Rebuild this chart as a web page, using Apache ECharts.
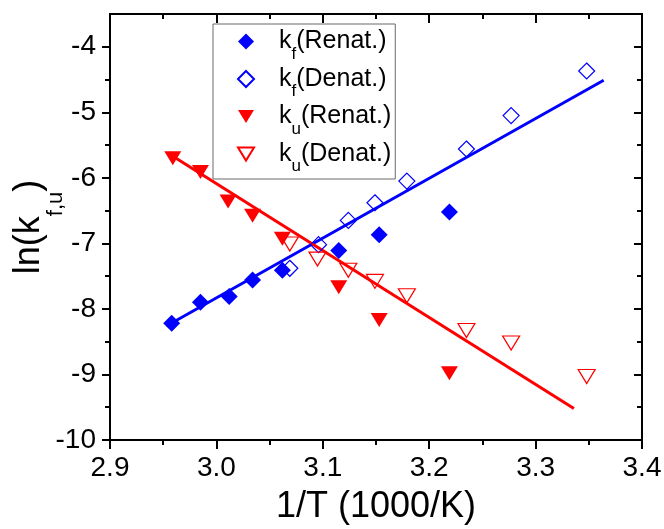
<!DOCTYPE html>
<html><head><meta charset="utf-8">
<script src="https://cdn.jsdelivr.net/npm/echarts@6/dist/echarts.min.js"></script>
<style>html,body{margin:0;padding:0;background:#fff}#c{width:664px;height:529px}</style>
</head><body><div id="c"></div>
<script>
// ---- data ----
const kfRenat = [[2.958,-8.22],[2.985,-7.90],[3.012,-7.81],[3.034,-7.56],[3.062,-7.41],[3.115,-7.11],[3.153,-6.87],[3.219,-6.52]];
const kfDenat = [[3.069,-7.38],[3.096,-7.02],[3.124,-6.65],[3.149,-6.38],[3.179,-6.05],[3.235,-5.56],[3.277,-5.05],[3.348,-4.37]];
const kuRenat = [[2.959,-5.70],[2.985,-5.91],[3.011,-6.36],[3.034,-6.58],[3.062,-6.93],[3.115,-7.67],[3.153,-8.17],[3.219,-8.98]];
const kuDenat = [[3.069,-7.01],[3.095,-7.24],[3.124,-7.41],[3.149,-7.58],[3.179,-7.80],[3.235,-8.33],[3.277,-8.52],[3.348,-9.03]];
const blueFit = [[2.953,-8.26],[3.364,-4.51]];
const redFit = [[2.955,-5.63],[3.336,-9.52]];
const seriesNames = ['kf(Renat.)','kf(Denat.)','ku(Renat.)','ku(Denat.)'];
const xTickLabels = ['2.9','3.0','3.1','3.2','3.3','3.4'];
const yMajor = [-10,-9,-8,-7,-6,-5,-4];
const yTickLabels = ['-10','-9','-8','-7','-6','-5','-4'];
const yMinor = [-9.5,-8.5,-7.5,-6.5,-5.5,-4.5];

const FONT = 'Liberation Sans, Arial, sans-serif';
const BLUE = '#0000FF', RED = '#FF0000';
const TRI = 'path://M0,0L16,0L8,13Z';
const line = {color:'#000', width:2};
const tickLS = {color:'#000', width:2};
const gridRect = {left:110, right:22, top:14, bottom:89, outerBoundsMode:'none', containLabel:false};

const chart = echarts.init(document.getElementById('c'));
chart.setOption({
  animation:false,
  backgroundColor:'#fff',
  grid:[Object.assign({}, gridRect), Object.assign({}, gridRect)],
  xAxis:[
    {type:'value', gridIndex:0, position:'bottom', min:2.9, max:3.4, interval:0.1,
     axisLine:{show:true, onZero:false, lineStyle:line},
     axisTick:{show:true, inside:false, length:9, lineStyle:tickLS},
     minorTick:{show:true, splitNumber:2, length:5, lineStyle:tickLS},
     splitLine:{show:false}, minorSplitLine:{show:false},
     axisLabel:{show:true, fontSize:28, color:'#000', fontFamily:FONT, margin:14,
       formatter:(v, i) => xTickLabels[i] !== undefined ? xTickLabels[i] : ''},
     name:'1/T (1000/K)', nameLocation:'middle', nameGap:49,
     nameTextStyle:{fontSize:36, color:'#000', fontFamily:FONT}},
    {type:'value', gridIndex:0, position:'top', min:2.9, max:3.4, interval:0.1,
     axisLine:{show:true, onZero:false, lineStyle:line},
     axisTick:{show:true, inside:true, length:9, lineStyle:tickLS},
     minorTick:{show:true, splitNumber:2, length:5, lineStyle:tickLS},
     splitLine:{show:false}, axisLabel:{show:false}},
    {type:'value', gridIndex:1, min:2.9, max:3.4, show:false}
  ],
  yAxis:[
    {type:'value', gridIndex:0, position:'left', min:-10, max:-3.5,
     axisLine:{show:true, onZero:false, lineStyle:line},
     axisTick:{show:true, inside:false, length:8, lineStyle:tickLS, customValues:yMajor},
     splitLine:{show:false},
     axisLabel:{show:true, fontSize:28, color:'#000', fontFamily:FONT, margin:14, customValues:yMajor,
       formatter:v => { const k = yMajor.indexOf(v); return k >= 0 ? yTickLabels[k] : ''; }},
     name:'{m|ln(k}{s|f,u}{m|)}', nameLocation:'middle', nameGap:43, nameMoveOverlap:false,
     nameTextStyle:{color:'#000', fontFamily:FONT, rich:{
       m:{fontSize:36, lineHeight:76, fontFamily:FONT, color:'#000'},
       s:{fontSize:22, lineHeight:12, verticalAlign:'bottom', fontFamily:FONT, color:'#000'}}}},
    {type:'value', gridIndex:0, position:'right', min:-10, max:-3.5,
     axisLine:{show:true, onZero:false, lineStyle:line},
     axisTick:{show:true, inside:true, length:8, lineStyle:tickLS, customValues:yMajor},
     splitLine:{show:false}, axisLabel:{show:false}},
    {type:'value', gridIndex:1, position:'left', min:-10, max:-3.5,
     axisLine:{show:false},
     axisTick:{show:true, inside:false, length:5, lineStyle:tickLS, customValues:yMinor},
     splitLine:{show:false}, axisLabel:{show:false}},
    {type:'value', gridIndex:1, position:'right', min:-10, max:-3.5,
     axisLine:{show:false},
     axisTick:{show:true, inside:true, length:5, lineStyle:tickLS, customValues:yMinor},
     splitLine:{show:false}, axisLabel:{show:false}}
  ],
  legend:{
    orient:'vertical', left:213, top:24, padding:[5,4,4,24], itemGap:4,
    itemWidth:16, itemHeight:16, borderColor:'#6a6a6a', borderWidth:1,
    selectedMode:false, data:seriesNames,
    formatter:name => '{sp| }{m|k}{s|' + name[1] + '}{m|' + name.slice(2) + '}',
    textStyle:{rich:{
      sp:{width:20},
      m:{fontSize:25, lineHeight:42, fontFamily:FONT, color:'#000'},
      s:{fontSize:17, lineHeight:10, verticalAlign:'bottom', fontFamily:FONT, color:'#000'}}}
  },
  series:[
    {type:'line', name:'fitF', data:blueFit, showSymbol:false, symbol:'none', silent:true,
     lineStyle:{color:BLUE, width:3}, z:1},
    {type:'line', name:'fitU', data:redFit, showSymbol:false, symbol:'none', silent:true,
     lineStyle:{color:RED, width:3}, z:1},
    {type:'scatter', name:seriesNames[0], data:kfRenat, symbol:'diamond', symbolSize:17,
     itemStyle:{color:BLUE, opacity:1}, z:3},
    {type:'scatter', name:seriesNames[1], data:kfDenat, symbol:'diamond', symbolSize:16,
     itemStyle:{color:'rgba(255,255,255,0)', borderColor:BLUE, borderWidth:1.2, opacity:1}, z:3},
    {type:'scatter', name:seriesNames[2], data:kuRenat, symbol:TRI, symbolSize:[17,14], symbolKeepAspect:false,
     itemStyle:{color:RED, opacity:1}, z:3},
    {type:'scatter', name:seriesNames[3], data:kuDenat, symbol:TRI, symbolSize:[17,14], symbolKeepAspect:false,
     itemStyle:{color:'rgba(255,255,255,0)', borderColor:RED, borderWidth:1.2, opacity:1}, z:3}
  ]
});
</script></body></html>
